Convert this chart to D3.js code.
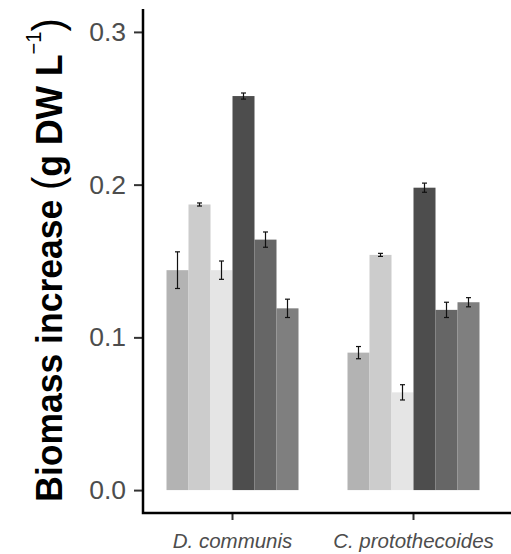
<!DOCTYPE html>
<html>
<head>
<meta charset="utf-8">
<script src="https://cdn.jsdelivr.net/npm/d3@7"></script>
<style>
  body { margin: 0; background: #fff; }
  svg { display: block; }
</style>
</head>
<body>
<div id="chart"></div>
<script>
// species on the x axis
var species = ["D. communis", "C. protothecoides"];
// six treatments per species
var treatments = ["t1", "t2", "t3", "t4", "t5", "t6"];
var fills = ["#b3b3b3", "#cccccc", "#e5e5e5", "#4d4d4d", "#666666", "#7f7f7f"];
// biomass increase and error (g DW / L)
var dcValues = [0.144, 0.187, 0.144, 0.258, 0.164, 0.119];
var dcErrors = [0.012, 0.001, 0.006, 0.002, 0.005, 0.006];
var cpValues = [0.090, 0.154, 0.064, 0.198, 0.118, 0.123];
var cpErrors = [0.004, 0.001, 0.005, 0.003, 0.005, 0.003];
var yTicks = [0, 0.1, 0.2, 0.3];

var svgWidth = 511, svgHeight = 554;
var font = "'Liberation Sans', Arial, sans-serif";

var svg = d3.select("#chart").append("svg")
  .attr("width", svgWidth)
  .attr("height", svgHeight);

var rows = [];
species.forEach(function(sp, i) {
  var vals = i === 0 ? dcValues : cpValues;
  var errs = i === 0 ? dcErrors : cpErrors;
  treatments.forEach(function(t, j) {
    rows.push({ species: sp, treatment: t, value: vals[j], err: errs[j], fill: fills[j] });
  });
});

// scales
var xScale = d3.scaleBand()
  .domain(species)
  .range([142, 504]);

var innerScale = d3.scaleBand()
  .domain(treatments)
  .range([-66, 66]);

var yScale = d3.scaleLinear()
  .domain([-0.015, 0.315])
  .range([513, 9]);

// bars
svg.append("g").selectAll("rect")
  .data(rows)
  .enter()
  .append("rect")
  .attr("x", d => xScale(d.species) + xScale.bandwidth() / 2 + innerScale(d.treatment))
  .attr("y", d => yScale(d.value))
  .attr("width", innerScale.bandwidth())
  .attr("height", d => yScale(0) - yScale(d.value))
  .attr("fill", d => d.fill);

// error bars
var errGroup = svg.append("g")
  .attr("stroke", "#111")
  .attr("stroke-width", 1.2);

rows.forEach(function(d) {
  var cx = xScale(d.species) + xScale.bandwidth() / 2 + innerScale(d.treatment) + innerScale.bandwidth() / 2;
  var y0 = yScale(d.value - d.err), y1 = yScale(d.value + d.err);
  errGroup.append("line").attr("x1", cx).attr("x2", cx).attr("y1", y0).attr("y2", y1);
  errGroup.append("line").attr("x1", cx - 2.5).attr("x2", cx + 2.5).attr("y1", y0).attr("y2", y0);
  errGroup.append("line").attr("x1", cx - 2.5).attr("x2", cx + 2.5).attr("y1", y1).attr("y2", y1);
});

// y axis
var yAxis = svg.append("g")
  .attr("transform", "translate(143,0)")
  .call(d3.axisLeft(yScale).tickValues(yTicks).tickFormat(d3.format(".1f")).tickSize(9).tickPadding(8));
yAxis.select(".domain").remove();
yAxis.selectAll(".tick line").attr("stroke", "#333").attr("stroke-width", 2);
yAxis.selectAll(".tick text")
  .attr("fill", "#4d4d4d")
  .style("font-family", font)
  .style("font-size", "26.5px");

// x axis
var xAxis = svg.append("g")
  .attr("transform", "translate(0,513)")
  .call(d3.axisBottom(xScale).tickSize(7).tickPadding(10));
xAxis.select(".domain").remove();
xAxis.selectAll(".tick line").attr("stroke", "#333").attr("stroke-width", 2);
xAxis.selectAll(".tick text")
  .attr("fill", "#4d4d4d")
  .attr("dy", "0.76em")
  .attr("y", 19)
  .style("font-family", font)
  .style("font-style", "italic")
  .style("font-size", "20.5px");

// axis lines
svg.append("path")
  .attr("d", "M143,9 L143,513 L511,513")
  .attr("fill", "none")
  .attr("stroke", "#000")
  .attr("stroke-width", 2.5);

// y axis title
var title = svg.append("text")
  .attr("transform", "translate(62,260) rotate(-90) scale(1,1.06)")
  .attr("text-anchor", "middle")
  .style("font-family", font)
  .style("font-weight", "bold")
  .style("font-size", "35.5px")
  .attr("fill", "#000");
title.append("tspan").text("Biomass increase ");
title.append("tspan").style("font-weight", "normal").style("font-size", "40px").text("(");
title.append("tspan").text("g DW L");
title.append("tspan").attr("dy", -20).style("font-size", "20px").style("font-weight", "normal").text("\u22121");
title.append("tspan").attr("dy", 20).style("font-weight", "normal").style("font-size", "40px").text(")");
</script>
</body>
</html>
